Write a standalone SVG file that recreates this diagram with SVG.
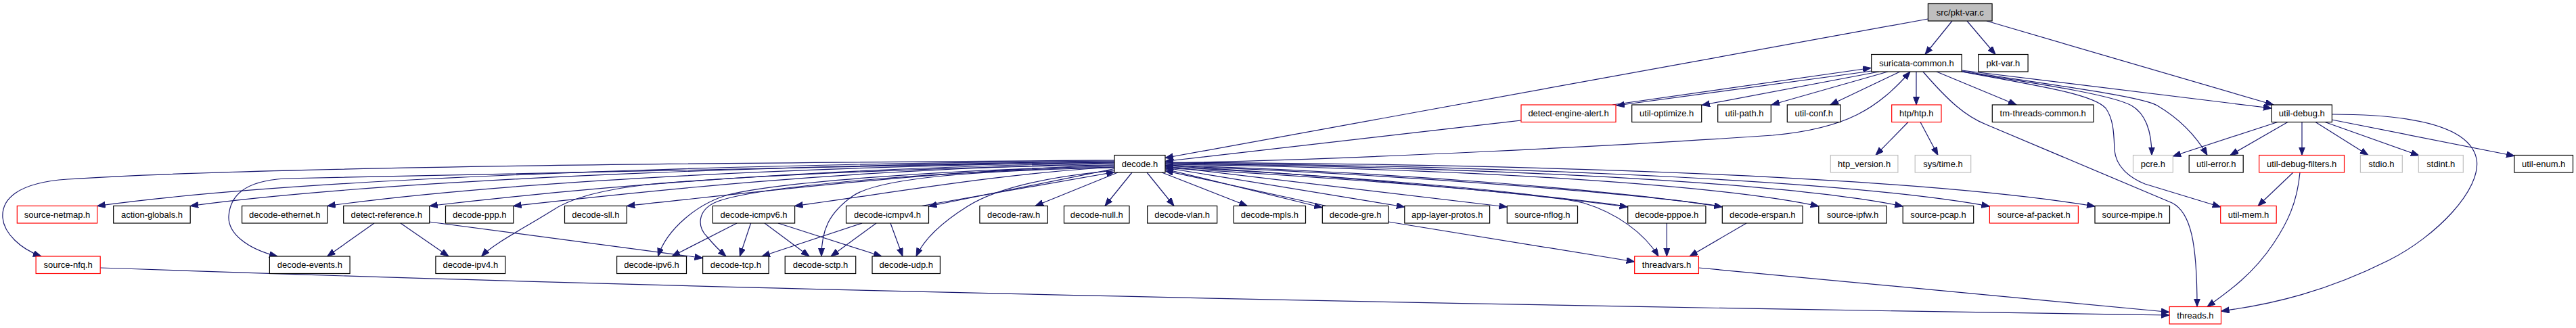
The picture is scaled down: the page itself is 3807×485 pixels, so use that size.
<svg xmlns="http://www.w3.org/2000/svg" width="3807" height="485" viewBox="0 0 3807 485">
<style>
rect{fill:#fff;stroke:#000;stroke-width:1.2}
.red rect{stroke:#f00}
.gry rect{stroke:#bfbfbf}
.root rect{fill:#bfbfbf}
text{font-family:"Liberation Sans",Arial,sans-serif;font-size:13px;fill:#000;text-anchor:middle}
#edges path{fill:none;stroke:#191970;stroke-width:1.2;marker-end:url(#a)}
</style>
<defs>
<marker id="a" markerUnits="userSpaceOnUse" markerWidth="14" markerHeight="10" refX="12" refY="4.5" orient="auto"><path d="M0,0L12,4.5L0,9z" fill="#191970" stroke="#191970" stroke-width="1"/></marker>
</defs>
<rect x="0" y="0" width="3807" height="485" style="fill:#fff;stroke:none"/>
<g id="edges">
<path d="M2885,31L2845,80.5"/>
<path d="M2907,31L2949,80.5"/>
<path d="M2936,31L3360,155"/>
<path d="M2849.4,28L1722,233.5"/>
<path d="M2766,105L2389,156"/>
<path d="M2383,155L2765,100.5"/>
<path d="M2777,106L2515,155.5"/>
<path d="M2790,106L2618,155"/>
<path d="M2808,106L2705,155"/>
<path d="M2832,106L2832,155"/>
<path d="M2862,106L2980,155"/>
<path d="M2842,106C2880,150 2905,172 2935,184L3210,300C3238,314 3247,360 3247,453.5"/>
<path d="M2899,104L3357,160"/>
<path d="M2899,106C3020,128 3095,140 3112,160C3125,178 3124,205 3125,222C3127,245 3145,262 3170,272L3281.7,306"/>
<path d="M2899,106C3020,125 3120,140 3150,156C3174,170 3180,200 3180,229.5"/>
<path d="M2899,105C3050,128 3165,143 3188,156C3220,175 3245,200 3262,229.5"/>
<path d="M2248,178C2050,200 1850,225 1722,238.5"/>
<path d="M1722,241C2000,236 2400,215 2620,200C2730,190 2775,160 2823,106"/>
<path d="M2820,180.5L2772,229.5"/>
<path d="M2838,180.5L2864,229.5"/>
<path d="M3366,180.5L3211.3,231"/>
<path d="M3381,180.5L3296,229.5"/>
<path d="M3402,180.5L3402,229.5"/>
<path d="M3422,180.5L3500,229.5"/>
<path d="M3436,180.5L3575,230"/>
<path d="M3446,177L3716,230.5"/>
<path d="M3446.4,169C3560,169 3650,185 3660,235C3668,280 3600,350 3530,385C3440,430 3360,450 3282.5,460"/>
<path d="M3389,255L3337,304.5"/>
<path d="M3399,255C3395,300 3380,330 3360,360C3330,405 3295,430 3262,453.5"/>
<path d="M2463.3,330L2463.3,379"/>
<path d="M2581,330L2497,379"/>
<path d="M2052,328L2415.7,387"/>
<path d="M1722,247C1900,255 2250,280 2340,300C2390,315 2430,345 2451,379"/>
<path d="M2510.4,396L3206,461.5"/>
<path d="M148.2,396Q1400,440 3206,466"/>
<path d="M553,330L483.7,379"/>
<path d="M592,330L663,379"/>
<path d="M634,328L1038.6,381.5"/>
<path d="M1089,330L993,379"/>
<path d="M1109.6,330L1093.3,379"/>
<path d="M1130,330L1196,379"/>
<path d="M1150,330L1303,379"/>
<path d="M1274,330L1126,379"/>
<path d="M1295,330L1228,379"/>
<path d="M1316,330L1334,379"/>
<path d="M1362,304.5L1647,254.5"/>
<path d="M1647,249.5L1372.4,305"/>
<path d="M1647,237C1200,240 400,245 100,265C25,270 2,295 4,322C6,345 30,368 61,379"/>
<path d="M1647,238C1100,242 450,262 143.7,304.5"/>
<path d="M1647,239C1100,244 550,268 281.2,304.5"/>
<path d="M1647,240C1200,246 700,255 420,264C360,268 340,290 338,320C337,345 365,368 410,379"/>
<path d="M1647,240C1150,246 720,272 483.7,304.5"/>
<path d="M1647,241C1200,248 860,278 634.7,304.5"/>
<path d="M1647,242C1250,250 960,282 758.6,304.5"/>
<path d="M1647,244C1400,246 1100,260 956,273C880,282 840,295 815,312C770,340 730,360 711.6,379"/>
<path d="M1647,244C1380,252 1100,286 926.3,304.5"/>
<path d="M1647,246C1400,250 1150,270 1080,287C1030,300 985,340 972.5,379"/>
<path d="M1647,247C1400,252 1120,275 1060,298C1030,310 1030,335 1045,350C1055,362 1065,372 1073,379"/>
<path d="M1647,247C1480,256 1300,288 1174.5,304.5"/>
<path d="M1647,248C1450,252 1300,262 1260,290C1225,315 1214,340 1214,379"/>
<path d="M1647,252C1540,262 1470,280 1430,305C1390,330 1365,355 1354,379"/>
<path d="M1652,255L1530,304.5"/>
<path d="M1673,255L1633,304.5"/>
<path d="M1695,255L1735,304.5"/>
<path d="M1717,255L1843.3,304.5"/>
<path d="M1722,250L1954.3,307"/>
<path d="M1960,304.5L1722,252.5"/>
<path d="M1722,248L2075.8,306"/>
<path d="M1722,246L2227.3,306"/>
<path d="M1722,245C1950,258 2250,285 2405.7,306"/>
<path d="M2400,304.5C2250,283 1950,261 1722,248.5"/>
<path d="M1722,244C2050,254 2400,282 2545.3,306"/>
<path d="M2540,304.5C2400,284 2050,257 1722,245"/>
<path d="M1722,243C2200,250 2550,275 2687.8,305"/>
<path d="M1722,242C2250,248 2650,272 2812.2,305"/>
<path d="M1722,241C2300,246 2750,270 2940.4,305"/>
<path d="M1722,240C2350,243 2850,265 3096,305"/>
</g>
<g id="n_pkt_var_c" class="root"><rect x="2849.4" y="5.5" width="94.7" height="25.5"/><text x="2896.8" y="22.8">src/pkt-var.c</text></g>
<g id="n_suricata_common"><rect x="2765.7" y="80.5" width="133.5" height="25.5"/><text x="2832.5" y="97.8">suricata-common.h</text></g>
<g id="n_pkt_var_h"><rect x="2923.7" y="80.5" width="73.4" height="25.5"/><text x="2960.4" y="97.8">pkt-var.h</text></g>
<g id="n_detect_engine_alert" class="red"><rect x="2248" y="155" width="140" height="25.5"/><text x="2318" y="172.3">detect-engine-alert.h</text></g>
<g id="n_util_optimize"><rect x="2411.7" y="155" width="103" height="25.5"/><text x="2463.2" y="172.3">util-optimize.h</text></g>
<g id="n_util_path"><rect x="2538.7" y="155" width="78.6" height="25.5"/><text x="2578" y="172.3">util-path.h</text></g>
<g id="n_util_conf"><rect x="2641.3" y="155" width="78.7" height="25.5"/><text x="2680.7" y="172.3">util-conf.h</text></g>
<g id="n_htp" class="red"><rect x="2795.7" y="155" width="73.3" height="25.5"/><text x="2832.3" y="172.3">htp/htp.h</text></g>
<g id="n_tm_threads_common"><rect x="2944.3" y="155" width="149.7" height="25.5"/><text x="3019.2" y="172.3">tm-threads-common.h</text></g>
<g id="n_util_debug"><rect x="3357.2" y="155" width="89.2" height="25.5"/><text x="3401.8" y="172.3">util-debug.h</text></g>
<g id="n_decode"><rect x="1647" y="229.5" width="75" height="25.5"/><text x="1684.5" y="246.8">decode.h</text></g>
<g id="n_htp_version" class="gry"><rect x="2705.3" y="229.5" width="99.6" height="25.5"/><text x="2755.1" y="246.8">htp_version.h</text></g>
<g id="n_sys_time" class="gry"><rect x="2830.2" y="229.5" width="82.5" height="25.5"/><text x="2871.5" y="246.8">sys/time.h</text></g>
<g id="n_pcre" class="gry"><rect x="3152.5" y="229.5" width="58.8" height="25.5"/><text x="3181.9" y="246.8">pcre.h</text></g>
<g id="n_util_error"><rect x="3235.2" y="229.5" width="80" height="25.5"/><text x="3275.2" y="246.8">util-error.h</text></g>
<g id="n_util_debug_filters" class="red"><rect x="3338.7" y="229.5" width="125.8" height="25.5"/><text x="3401.6" y="246.8">util-debug-filters.h</text></g>
<g id="n_stdio" class="gry"><rect x="3488.4" y="229.5" width="61.9" height="25.5"/><text x="3519.4" y="246.8">stdio.h</text></g>
<g id="n_stdint" class="gry"><rect x="3574.3" y="229.5" width="66" height="25.5"/><text x="3607.3" y="246.8">stdint.h</text></g>
<g id="n_util_enum"><rect x="3715.8" y="229.5" width="86.7" height="25.5"/><text x="3759.2" y="246.8">util-enum.h</text></g>
<g id="n_source_netmap" class="red"><rect x="25.3" y="304.5" width="118.4" height="25.5"/><text x="84.5" y="321.8">source-netmap.h</text></g>
<g id="n_action_globals"><rect x="167.7" y="304.5" width="113.5" height="25.5"/><text x="224.5" y="321.8">action-globals.h</text></g>
<g id="n_decode_ethernet"><rect x="357.6" y="304.5" width="126.2" height="25.5"/><text x="420.7" y="321.8">decode-ethernet.h</text></g>
<g id="n_detect_reference"><rect x="507.7" y="304.5" width="127" height="25.5"/><text x="571.2" y="321.8">detect-reference.h</text></g>
<g id="n_decode_ppp"><rect x="658.5" y="304.5" width="100.3" height="25.5"/><text x="708.7" y="321.8">decode-ppp.h</text></g>
<g id="n_decode_sll"><rect x="834.5" y="304.5" width="91.8" height="25.5"/><text x="880.4" y="321.8">decode-sll.h</text></g>
<g id="n_decode_icmpv6"><rect x="1053.3" y="304.5" width="121.3" height="25.5"/><text x="1114" y="321.8">decode-icmpv6.h</text></g>
<g id="n_decode_icmpv4"><rect x="1250.5" y="304.5" width="122" height="25.5"/><text x="1311.5" y="321.8">decode-icmpv4.h</text></g>
<g id="n_decode_raw"><rect x="1447.9" y="304.5" width="100.4" height="25.5"/><text x="1498.1" y="321.8">decode-raw.h</text></g>
<g id="n_decode_null"><rect x="1572.5" y="304.5" width="96.5" height="25.5"/><text x="1620.8" y="321.8">decode-null.h</text></g>
<g id="n_decode_vlan"><rect x="1695.7" y="304.5" width="103" height="25.5"/><text x="1747.2" y="321.8">decode-vlan.h</text></g>
<g id="n_decode_mpls"><rect x="1823.3" y="304.5" width="106.2" height="25.5"/><text x="1876.4" y="321.8">decode-mpls.h</text></g>
<g id="n_decode_gre"><rect x="1954.3" y="304.5" width="97.6" height="25.5"/><text x="2003.1" y="321.8">decode-gre.h</text></g>
<g id="n_app_layer_protos"><rect x="2075.8" y="304.5" width="125.8" height="25.5"/><text x="2138.7" y="321.8">app-layer-protos.h</text></g>
<g id="n_source_nflog"><rect x="2227.3" y="304.5" width="104.2" height="25.5"/><text x="2279.4" y="321.8">source-nflog.h</text></g>
<g id="n_decode_pppoe"><rect x="2405.7" y="304.5" width="115.2" height="25.5"/><text x="2463.3" y="321.8">decode-pppoe.h</text></g>
<g id="n_decode_erspan"><rect x="2545.3" y="304.5" width="118.8" height="25.5"/><text x="2604.7" y="321.8">decode-erspan.h</text></g>
<g id="n_source_ipfw"><rect x="2687.8" y="304.5" width="100.4" height="25.5"/><text x="2738" y="321.8">source-ipfw.h</text></g>
<g id="n_source_pcap"><rect x="2812.2" y="304.5" width="104.5" height="25.5"/><text x="2864.5" y="321.8">source-pcap.h</text></g>
<g id="n_source_af_packet" class="red"><rect x="2940.4" y="304.5" width="131" height="25.5"/><text x="3005.9" y="321.8">source-af-packet.h</text></g>
<g id="n_source_mpipe"><rect x="3096" y="304.5" width="110.5" height="25.5"/><text x="3151.2" y="321.8">source-mpipe.h</text></g>
<g id="n_util_mem" class="red"><rect x="3281.7" y="304.5" width="82.5" height="25.5"/><text x="3323" y="321.8">util-mem.h</text></g>
<g id="n_source_nfq" class="red"><rect x="53.1" y="379" width="95.1" height="25.5"/><text x="100.7" y="396.3">source-nfq.h</text></g>
<g id="n_decode_events"><rect x="398.4" y="379" width="118.7" height="25.5"/><text x="457.8" y="396.3">decode-events.h</text></g>
<g id="n_decode_ipv4"><rect x="643.9" y="379" width="102.8" height="25.5"/><text x="695.3" y="396.3">decode-ipv4.h</text></g>
<g id="n_decode_ipv6"><rect x="911.6" y="379" width="102.9" height="25.5"/><text x="963" y="396.3">decode-ipv6.h</text></g>
<g id="n_decode_tcp"><rect x="1038.6" y="379" width="97.5" height="25.5"/><text x="1087.3" y="396.3">decode-tcp.h</text></g>
<g id="n_decode_sctp"><rect x="1160.2" y="379" width="104.5" height="25.5"/><text x="1212.5" y="396.3">decode-sctp.h</text></g>
<g id="n_decode_udp"><rect x="1289" y="379" width="100.4" height="25.5"/><text x="1339.2" y="396.3">decode-udp.h</text></g>
<g id="n_threadvars" class="red"><rect x="2415.7" y="379" width="94.7" height="25.5"/><text x="2463" y="396.3">threadvars.h</text></g>
<g id="n_threads" class="red"><rect x="3206.2" y="453.5" width="76.3" height="25.5"/><text x="3244.4" y="470.8">threads.h</text></g>
</svg>
